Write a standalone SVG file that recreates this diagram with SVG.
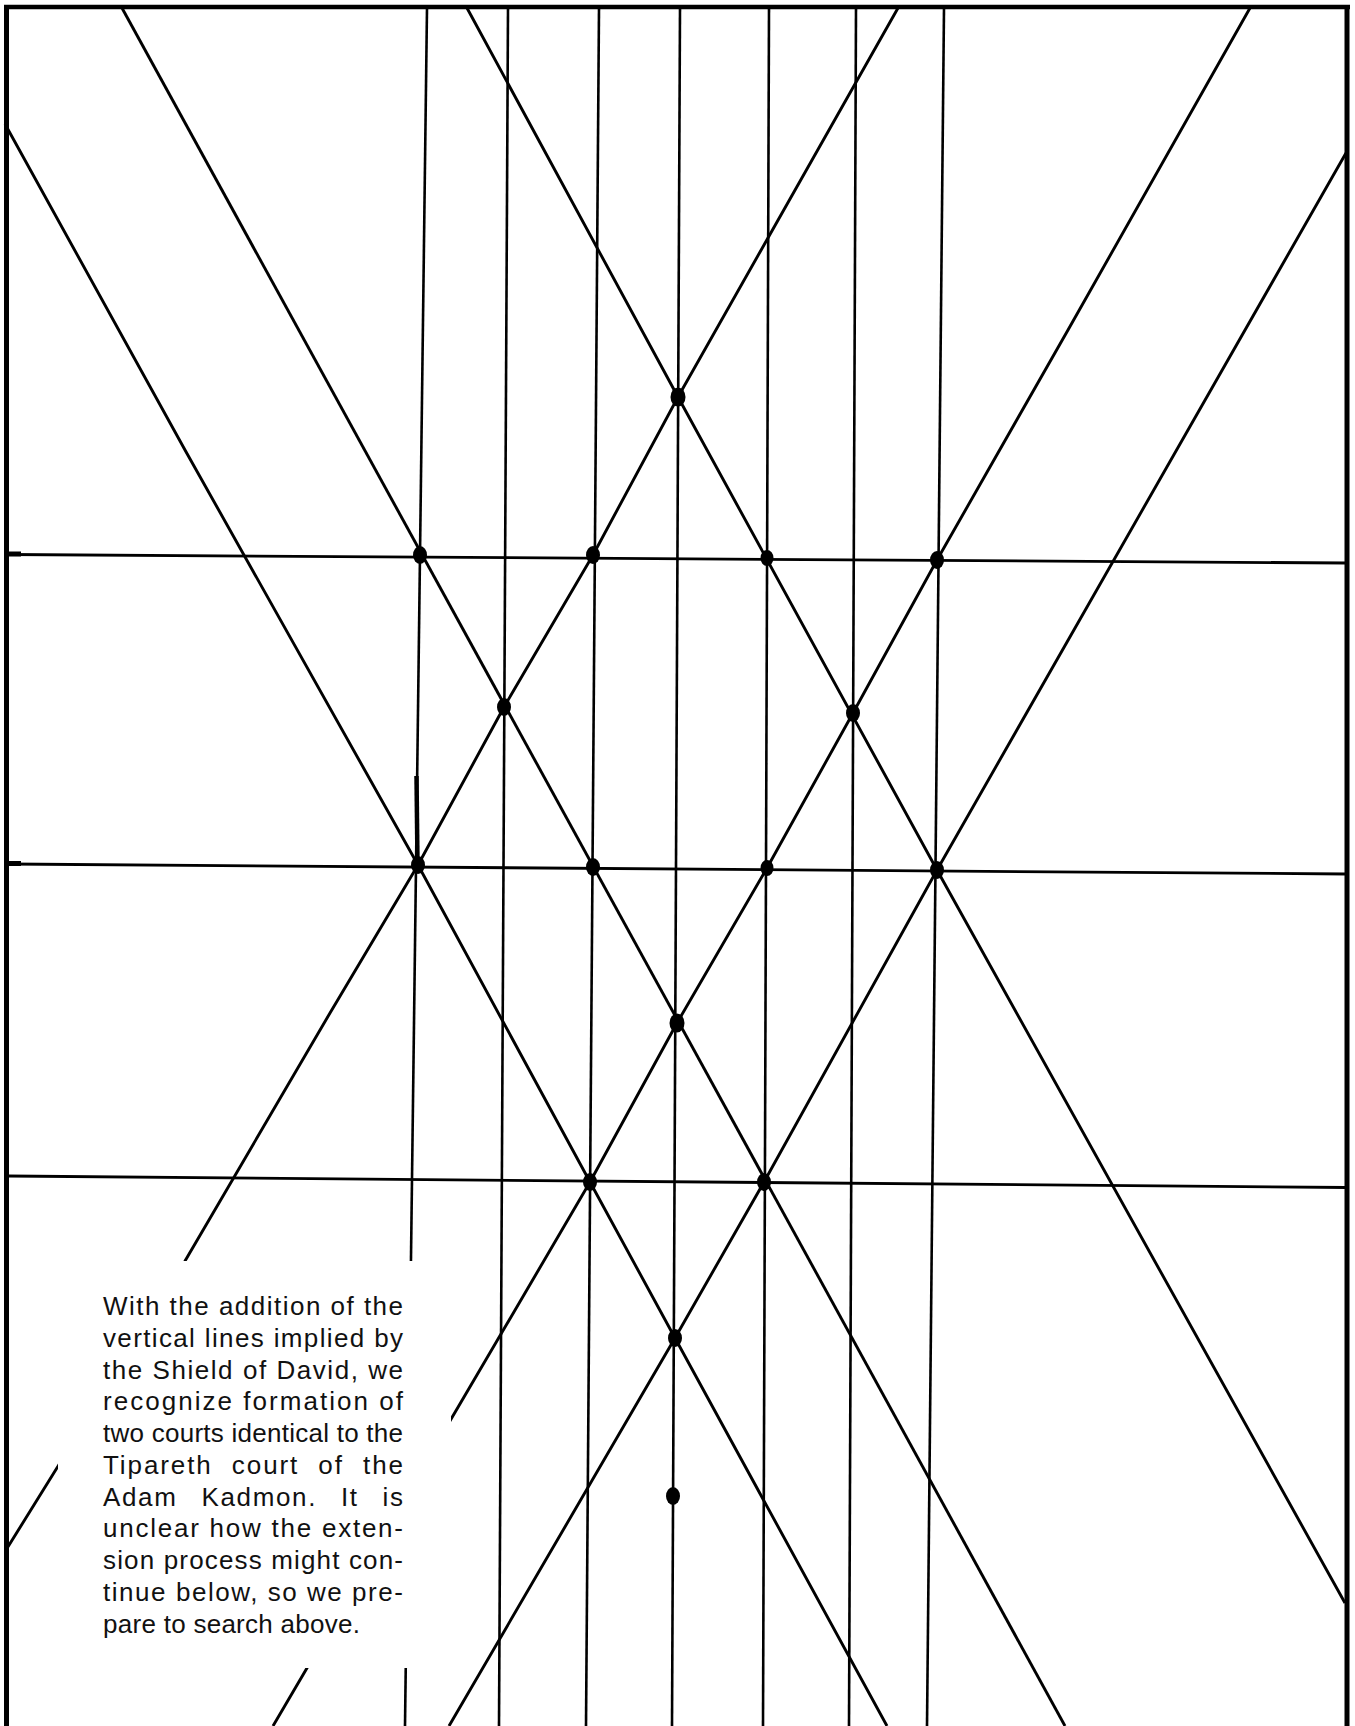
<svg xmlns="http://www.w3.org/2000/svg" width="1355" height="1726" viewBox="0 0 1355 1726">
  <style>
    .ln { fill: none; stroke: #000; stroke-linecap: butt; stroke-linejoin: round; }
    .diag { stroke-width: 2.9; }
    .vert { stroke-width: 2.6; }
    .horz { stroke-width: 2.8; }
    .dot { fill: #000; }
    .txt { font-family: "Liberation Sans", Arial, Helvetica, sans-serif; font-size: 26px; fill: #111; }
  </style>
  <rect x="0" y="0" width="1355" height="1726" fill="#fff"/>

  <g id="connectors">
    <!-- horizontal rows -->
    <line class="ln horz" x1="8" y1="554.5" x2="1346" y2="563"/>
    <line class="ln horz" x1="8" y1="864" x2="1346" y2="874"/>
    <line class="ln horz" x1="8" y1="1176" x2="1346" y2="1187.5"/>
    <line class="ln" stroke-width="5" x1="7" y1="554" x2="21" y2="554"/>
    <line class="ln" stroke-width="5" x1="7" y1="863.5" x2="21" y2="863.5"/>

    <!-- vertical lines -->
    <line class="ln vert" x1="427" y1="8" x2="405" y2="1726" stroke-width="2.2"/>
    <line class="ln vert" x1="508" y1="8" x2="499" y2="1726"/>
    <line class="ln vert" x1="599" y1="8" x2="586" y2="1726"/>
    <line class="ln vert" x1="680" y1="8" x2="672" y2="1726" stroke-width="3.3"/>
    <line class="ln vert" x1="769" y1="8" x2="763" y2="1726"/>
    <line class="ln vert" x1="856" y1="8" x2="849" y2="1726"/>
    <line class="ln vert" x1="944" y1="8" x2="927" y2="1726"/>
    <line class="ln" stroke-width="4.5" x1="416.5" y1="776" x2="417.5" y2="865"/>

    <!-- descending diagonals -->
    <line class="ln diag" x1="122" y1="8" x2="1065" y2="1726"/>
    <polyline class="ln diag" points="5,124 185,450 418,865 590,1182 675,1338 887,1726"/>
    <polyline class="ln diag" points="467,8 678,397 937,870 1345,1603"/>

    <!-- ascending diagonals -->
    <polyline class="ln diag" points="898,8 678,397 593,555 504,707 418,865 330,1013 185,1261 60,1463 6,1550"/>
    <polyline class="ln diag" points="1250,8 1068,330 937,560 853,713 767,868 677,1023 590,1182 535,1276 447,1426 307,1668 273,1726"/>
    <polyline class="ln diag" points="1346,153 937,870 764,1182 675,1338 449,1726"/>
  </g>

  <g id="textbox">
    <rect x="58" y="1261" width="393" height="407" fill="#fff"/>
  </g>

  <g id="frame">
    <line class="ln" stroke-width="4.5" x1="4" y1="7" x2="1350" y2="7"/>
    <line class="ln" stroke-width="5" x1="6.5" y1="5" x2="6.5" y2="1726"/>
    <line class="ln" stroke-width="5" x1="1347" y1="5" x2="1347" y2="1726"/>
  </g>

  <g id="dots">
    <g id="n-top"><ellipse class="dot" cx="678" cy="397" rx="7.5" ry="9.5"/></g>
    <g id="n-r1a"><ellipse class="dot" cx="420" cy="555" rx="7" ry="9"/></g>
    <g id="n-r1b"><ellipse class="dot" cx="593" cy="555" rx="7" ry="9"/></g>
    <g id="n-r1c"><ellipse class="dot" cx="767" cy="558" rx="6.5" ry="8"/></g>
    <g id="n-r1d"><ellipse class="dot" cx="937" cy="560" rx="7" ry="9"/></g>
    <g id="n-m1"><ellipse class="dot" cx="504" cy="707" rx="7" ry="9"/></g>
    <g id="n-m2"><ellipse class="dot" cx="853" cy="713" rx="7" ry="9"/></g>
    <g id="n-r2a"><ellipse class="dot" cx="418" cy="865" rx="7" ry="9"/></g>
    <g id="n-r2b"><ellipse class="dot" cx="593" cy="867" rx="7" ry="9"/></g>
    <g id="n-r2c"><ellipse class="dot" cx="767" cy="868" rx="6.5" ry="8"/></g>
    <g id="n-r2d"><ellipse class="dot" cx="937" cy="870" rx="7" ry="9"/></g>
    <g id="n-c"><ellipse class="dot" cx="677" cy="1023" rx="7.5" ry="9.5"/></g>
    <g id="n-r3a"><ellipse class="dot" cx="590" cy="1182" rx="7" ry="9"/></g>
    <g id="n-r3b"><ellipse class="dot" cx="764" cy="1182" rx="7" ry="9"/></g>
    <g id="n-l1"><ellipse class="dot" cx="675" cy="1338" rx="7" ry="9"/></g>
    <g id="n-l2"><ellipse class="dot" cx="673" cy="1496" rx="7" ry="9"/></g>
  </g>

  <g id="caption" class="txt">
    <text x="103" y="1315" textLength="300" lengthAdjust="spacing">With the addition of the</text>
    <text x="103" y="1346.8" textLength="300" lengthAdjust="spacing">vertical lines implied by</text>
    <text x="103" y="1378.5" textLength="300" lengthAdjust="spacing">the Shield of David, we</text>
    <text x="103" y="1410.3" textLength="300" lengthAdjust="spacing">recognize formation of</text>
    <text x="103" y="1442" textLength="300" lengthAdjust="spacing">two courts identical to the</text>
    <text x="103" y="1473.8" textLength="300" lengthAdjust="spacing" word-spacing="10">Tipareth court of the</text>
    <text x="103" y="1505.5" textLength="300" lengthAdjust="spacing" word-spacing="15">Adam Kadmon. It is</text>
    <text x="103" y="1537.3" textLength="300" lengthAdjust="spacing">unclear how the exten-</text>
    <text x="103" y="1569" textLength="300" lengthAdjust="spacing">sion process might con-</text>
    <text x="103" y="1600.8" textLength="300" lengthAdjust="spacing">tinue below, so we pre-</text>
    <text x="103" y="1632.5" textLength="257" lengthAdjust="spacing">pare to search above.</text>
  </g>
</svg>
